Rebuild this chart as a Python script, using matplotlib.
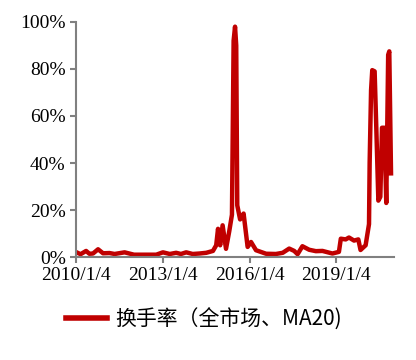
import pandas as pd
import matplotlib.pyplot as plt
from matplotlib.ticker import FuncFormatter

# 换手率（全市场、MA20），单位 %
dates = [
    '2010-01-04', '2010-03-01', '2010-05-10', '2010-06-20', '2010-08-05',
    '2010-10-08', '2010-12-10', '2011-03-01', '2011-05-05', '2011-09-08',
    '2012-01-05', '2012-06-08', '2012-10-12', '2013-01-04', '2013-04-01',
    '2013-06-20', '2013-08-20', '2013-10-25', '2014-01-15', '2014-04-10',
    '2014-07-05', '2014-09-28', '2014-11-08', '2014-12-01', '2014-12-28',
    '2015-01-28', '2015-03-12', '2015-04-22', '2015-05-26', '2015-06-16',
    '2015-07-04', '2015-07-19', '2015-08-01', '2015-09-06', '2015-10-20',
    '2015-12-10', '2016-01-22', '2016-03-25', '2016-07-30', '2016-12-01',
    '2017-02-25', '2017-05-18', '2017-07-20', '2017-09-01', '2017-11-01',
    '2018-01-25', '2018-04-20', '2018-07-12', '2018-11-15', '2019-02-05',
    '2019-03-01', '2019-05-01', '2019-06-12', '2019-08-15', '2019-10-08',
    '2019-11-05', '2020-01-08', '2020-02-20', '2020-02-28', '2020-03-17',
    '2020-04-01', '2020-05-01', '2020-05-22', '2020-06-17', '2020-07-12',
    '2020-08-02', '2020-09-01', '2020-09-25', '2020-10-19', '2020-11-02',
    '2020-11-24',
]
turnover = [
    2.1, 1.2, 2.6, 1.4, 1.5,
    3.3, 1.6, 1.7, 1.3, 2.0,
    1.0, 1.0, 1.0, 2.0, 1.3,
    1.8, 1.3, 2.0, 1.3, 1.5,
    1.8, 2.6, 5.0, 12.0, 5.0,
    13.5, 3.5, 11.0, 18.0, 92.0,
    98.0, 90.0, 22.0, 16.0, 18.5,
    4.3, 6.4, 2.9, 1.4, 1.3,
    1.8, 3.6, 2.6, 1.2, 4.6,
    3.1, 2.5, 2.6, 1.5, 2.2,
    7.8, 7.5, 8.3, 7.0, 7.5,
    3.0, 5.0, 14.0, 40.0, 71.0,
    79.5, 79.0, 55.0, 24.0, 25.6,
    55.0, 55.0, 23.0, 86.0, 87.5,
    35.6,
]
tick_dates = ['2010-01-04', '2013-01-04', '2016-01-04', '2019-01-04']
tick_labels = ['2010/1/4', '2013/1/4', '2016/1/4', '2019/1/4']

x = pd.to_datetime(dates)

fig = plt.figure(figsize=(4.16, 3.6), dpi=100)
ax = fig.add_axes([0.183, 0.286, 0.764, 0.653])

ax.plot(x, turnover, color='#C00000', linewidth=3.2, solid_joinstyle='round',
        label='换手率（全市场、MA20)')

ax.set_xlim(pd.Timestamp('2010-01-04'), pd.Timestamp('2020-12-31'))
ax.set_ylim(0, 100)
ax.set_yticks([0, 20, 40, 60, 80, 100])
ax.yaxis.set_major_formatter(FuncFormatter(lambda v, p: f'{v:.0f}%'))
ax.set_xticks(pd.to_datetime(tick_dates))
ax.set_xticklabels(tick_labels)

for side in ['top', 'right']:
    ax.spines[side].set_visible(False)
for side in ['left', 'bottom']:
    ax.spines[side].set_color('#808080')
    ax.spines[side].set_linewidth(1.5)
ax.tick_params(colors='#808080', width=1.5, length=4, labelcolor='black', labelsize=14)
for lbl in ax.get_xticklabels() + ax.get_yticklabels():
    lbl.set_family('Liberation Serif')

leg = fig.legend(loc='lower center', bbox_to_anchor=(0.49, 0.03), frameon=False,
                 prop={'family': ['Noto Sans CJK SC', 'DejaVu Sans'], 'size': 15},
                 handlelength=2.0, handletextpad=0.4)
for h in leg.get_lines():
    h.set_linewidth(4)

fig.savefig('out.png', dpi=100)
